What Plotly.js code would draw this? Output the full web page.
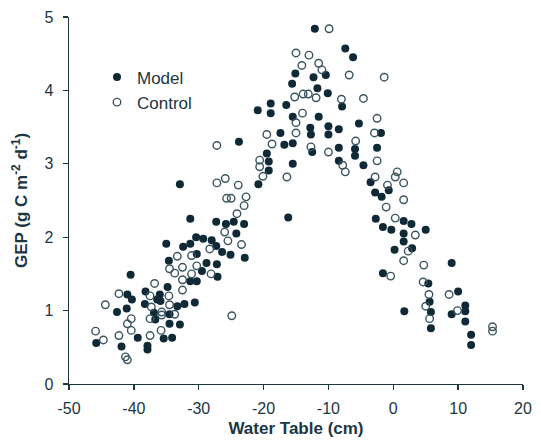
<!DOCTYPE html>
<html>
<head>
<meta charset="utf-8">
<script src="https://cdn.plot.ly/plotly-3.0.1.min.js"></script>
<style>html,body{margin:0;padding:0;background:#fff;}#chart{width:541px;height:440px;}</style>
</head>
<body>
<div id="chart"></div>
<script>
// Model (filled circles): water table (cm) and GEP (g C m-2 d-1)
const modelX = [
 -45.8,-41.9,-37.9,-37.9,-39.4,-35.4,-34.1,-32.9,-34.5,-36.7,-34.5,-36.9,-42.6,-41.1,-38.3,-33.3,-32.2,-30.6,
 -36.0,-36.4,-35.9,-38.2,-41.0,-40.3,-34.8,-40.5,-31.3,-30.3,-29.5,-34.6,-28.8,-30.3,-35.0,-32.4,-31.3,-30.4,
 -29.3,-28.0,-31.3,-27.3,-27.2,-27.1,-27.3,-26.4,-25.1,-22.9,-25.8,-24.6,-23.0,-24.2,-32.9,
 -23.8,-17.4,-15.5,-16.8,-19.5,-19.2,-15.5,-19.2,-20.8,-16.2,-12.1,-7.4,-6.2,-15.1,-12.3,-10.4,-15.6,-11.7,
 -10.1,-18.9,-20.9,-18.9,-16.5,-15.5,-11.5,-7.9,-5.3,-12.8,-12.7,-10.0,-10.0,-8.4,-12.5,-8.4,-5.9,-5.9,
 -2.5,-1.9,-8.4,-4.6,-3.5,-2.8,-0.7,-1.8,
 -2.7,-1.6,-0.3,1.6,2.8,5.0,1.6,1.6,2.9,0.2,9.0,-1.6,5.4,5.6,1.7,10.0,11.1,11.1,9.0,5.8,11.1,5.8,12.0,12.0
];
const modelY = [
 0.56,0.51,0.52,0.47,0.63,0.62,0.63,0.81,0.82,0.88,0.95,0.97,0.98,1.03,1.09,1.06,1.09,1.11,
 1.22,1.15,1.13,1.26,1.22,1.15,1.32,1.49,1.40,1.40,1.54,1.68,1.65,1.77,1.91,1.87,1.91,2.00,
 1.98,1.96,2.25,2.21,1.63,1.46,1.88,1.80,1.76,1.72,2.18,2.21,2.18,2.05,2.72,
 3.30,3.42,3.28,3.26,3.14,3.03,3.00,2.91,2.72,2.27,4.84,4.57,4.45,4.23,4.18,4.21,4.09,4.03,
 3.96,3.82,3.73,3.69,3.80,3.64,3.64,3.78,3.55,3.49,3.40,3.51,3.40,3.47,3.16,3.22,3.20,3.11,
 3.22,3.42,3.04,2.98,2.75,2.61,2.64,2.55,
 2.25,2.14,2.10,2.22,2.18,2.10,2.05,1.94,1.85,1.83,1.65,1.51,1.37,1.12,0.99,1.26,1.07,0.99,0.95,0.98,0.85,0.76,0.67,0.53
];
// Control (open circles)
const controlX = [
 -45.9,-44.7,-44.4,-42.3,-42.3,-41.3,-41.0,-41.0,-40.4,-40.4,-37.5,-37.3,-37.5,-37.5,-36.8,-35.8,-35.7,-35.7,
 -34.6,-34.5,-33.7,-32.5,-32.5,-34.5,-33.7,-32.5,-31.1,-30.3,-28.1,-33.3,-31.1,-28.3,
 -27.2,-27.2,-25.9,-23.9,-19.5,-18.7,-15.0,-15.0,-20.6,-20.6,-20.1,-16.4,-22.7,-25.7,-25.0,-23.0,-24.1,-26.0,
 -25.5,-23.4,-24.9,
 -9.9,-15.0,-13.0,-14.1,-11.5,-11.0,-6.8,-1.4,-15.2,-13.9,-13.1,-11.9,-8.0,-4.6,-14.0,-2.5,-2.9,-5.8,-12.7,
 -10.0,-7.8,-7.4,-2.5,-2.8,0.6,0.3,-0.9,1.6,1.6,
 -1.1,0.3,3.4,2.3,1.6,4.7,-0.4,4.6,5.5,8.6,5.0,9.9,5.6,15.3,15.3
];
const controlY = [
 0.72,0.60,1.08,1.23,0.66,0.37,0.33,0.82,0.89,0.73,1.20,1.05,0.89,0.66,1.37,0.73,0.98,0.94,
 1.20,1.08,0.95,1.42,1.28,1.57,1.51,1.59,1.50,1.61,1.50,1.74,1.75,1.84,
 3.25,2.74,2.80,2.71,3.40,3.27,3.42,3.56,3.05,2.96,2.83,2.82,2.55,2.53,2.53,2.43,2.32,2.07,
 1.95,1.90,0.93,
 4.84,4.51,4.48,4.34,4.37,4.28,4.21,4.18,3.91,3.95,3.95,3.90,3.88,3.89,3.69,3.62,3.42,3.31,3.23,
 3.16,2.98,2.89,3.04,2.82,2.89,2.82,2.71,2.74,2.51,
 2.41,2.26,2.03,1.81,1.68,1.62,1.47,1.39,1.22,1.22,1.06,1.00,0.89,0.78,0.72
];
const xTicks = [-50,-40,-30,-20,-10,0,10,20];
const yTicks = [0,1,2,3,4,5];

const ink = '#1c3642';
const font = 'Liberation Sans, Arial, Helvetica, sans-serif';

const traces = [
 {type:'scatter', mode:'markers', name:'Model', x:modelX, y:modelY,
  marker:{symbol:'circle', size:8, color:'#0f2a36', line:{width:0}}},
 {type:'scatter', mode:'markers', name:'Control', x:controlX, y:controlY,
  marker:{symbol:'circle-open', size:7.5, color:'#3a5560', line:{width:1.4}}}
];

const axisCommon = {
  showgrid:false, zeroline:false, showline:true, linecolor:ink, linewidth:1.3,
  ticks:'outside', ticklen:5, tickwidth:1.3, tickcolor:ink,
  tickfont:{family:font, size:16, color:ink}, fixedrange:true
};

const layout = {
  width:541, height:440,
  margin:{l:69, r:18, t:17, b:55.5},
  paper_bgcolor:'#fff', plot_bgcolor:'#fff',
  showlegend:true,
  legend:{x:(97-69)/454, y:(384.5-60)/367, xanchor:'left', yanchor:'top',
    font:{family:font, size:17, color:ink}, bgcolor:'rgba(0,0,0,0)',
    traceorder:'normal', itemwidth:30},
  xaxis:Object.assign({}, axisCommon, {range:[-50,20], tickvals:xTicks, ticktext:xTicks.map(String),
    ticklabelstandoff:4,
    title:{text:'<b>Water Table (cm)</b>', font:{family:font, size:17, color:ink}, standoff:6}}),
  yaxis:Object.assign({}, axisCommon, {range:[0,5], tickvals:yTicks, ticktext:yTicks.map(String),
    ticklabelstandoff:6,
    title:{text:'<b>GEP (g C m<sup>-2</sup> d<sup>-1</sup>)</b>', font:{family:font, size:17, color:ink}, standoff:12}})
};

Plotly.newPlot('chart', traces, layout, {displayModeBar:false, staticPlot:true});
</script>
</body>
</html>
